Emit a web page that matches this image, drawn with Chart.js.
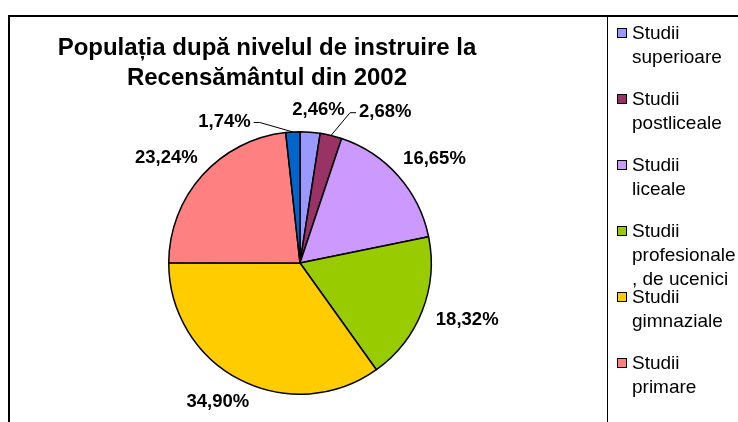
<!DOCTYPE html>
<html>
<head>
<meta charset="utf-8">
<script src="https://cdn.jsdelivr.net/npm/chart.js@4"></script>
<style>
  html, body { margin: 0; padding: 0; background: #fff; overflow: hidden; }
  #wrap { position: relative; width: 738px; height: 422px; overflow: hidden; font-family: "Liberation Sans", Arial, sans-serif; }
  #frame { position: absolute; left: 8px; top: 15px; width: 760px; height: 460px; border: 2px solid #000; box-sizing: border-box; }
  #title { position: absolute; left: 0; top: 32px; width: 534px; text-align: center; font-weight: bold; font-size: 24px; line-height: 30px; color: #000; }
  #legendBox { position: absolute; left: 607px; top: 16px; width: 200px; height: 460px; border: 1px solid #000; box-sizing: border-box; }
  .item { position: absolute; width: 200px; font-size: 19px; line-height: 24px; white-space: pre; color: #000; }
  canvas { position: absolute; left: 0; top: 0; }
</style>
</head>
<body>
<div id="wrap">
  <div id="frame"></div>
  <div id="legendBox"></div>
  <canvas id="pie" width="738" height="422"></canvas>
  <div id="title">Populația după nivelul de instruire la<br>Recensământul din 2002</div>
  <div id="legend"></div>
</div>
<script>
const categories = [
  "Studii\nsuperioare",
  "Studii\npostliceale",
  "Studii\nliceale",
  "Studii\nprofesionale\n, de ucenici",
  "Studii\ngimnaziale",
  "Studii\nprimare",
  "Fără școală\nabsolvită"
];
const shares = [2.46, 2.68, 16.65, 18.32, 34.90, 23.24, 1.74];
const colors = ["#9999FF", "#993366", "#CC99FF", "#99CC00", "#FFCC00", "#FF8080", "#0066CC"];

// manual shifts for labels Excel moved off the small slices
const labelShift = [[5, 3], [44, 1], [0, 0], [0, 0], [0, 0], [0, 0], [-66, 15]];

const pctLabels = {
  id: "pctLabels",
  afterDatasetsDraw(chart) {
    const ctx = chart.ctx;
    const meta = chart.getDatasetMeta(0);
    ctx.save();
    ctx.font = "bold 18.5px 'Liberation Sans', Arial, sans-serif";
    ctx.fillStyle = "#000";
    ctx.textAlign = "center";
    ctx.textBaseline = "middle";
    meta.data.forEach((arc, i) => {
      const p = arc.getProps(["x", "y", "startAngle", "endAngle", "outerRadius"], true);
      const mid = (p.startAngle + p.endAngle) / 2;
      const ux = Math.cos(mid), uy = Math.sin(mid);
      const txt = shares[i].toFixed(2).replace(".", ",") + "%";
      const w = ctx.measureText(txt).width, h = 17;
      const r = p.outerRadius + 17;
      const sh = labelShift[i];
      const cx = p.x + r * ux + w / 2 * ux + sh[0];
      const cy = p.y + r * uy + h / 2 * uy + sh[1];
      ctx.fillText(txt, cx, cy);
      if (Math.hypot(sh[0], sh[1]) > 20) {
        const ax = p.x + p.outerRadius * ux, ay = p.y + p.outerRadius * uy;
        const dir = cx < ax ? 1 : -1;
        const ex = cx + dir * (w / 2 + 3), ey = cy + 1;
        ctx.beginPath();
        ctx.lineWidth = 1;
        ctx.strokeStyle = "#000";
        ctx.moveTo(ex, ey);
        ctx.lineTo(ex + dir * 6, ey);
        ctx.lineTo(ax, ay);
        ctx.stroke();
      }
    });
    ctx.restore();
  }
};

const chart = new Chart(document.getElementById("pie"), {
  type: "pie",
  data: {
    labels: categories.map(c => c.replace(/\n/g, " ")),
    datasets: [{
      data: shares,
      backgroundColor: colors,
      borderColor: "#000",
      borderWidth: 1.5
    }]
  },
  options: {
    responsive: false,
    animation: false,
    layout: { padding: { left: 168, right: 306, top: 131, bottom: 27 } },
    plugins: {
      legend: { display: false },
      tooltip: { enabled: false }
    }
  },
  plugins: [pctLabels]
});

// legend on the right, built from the chart data (the last entry falls below the visible frame)
const legend = document.getElementById("legend");
categories.slice(0, 6).forEach((name, i) => {
  const top = 21 + i * 66;
  const sw = document.createElement("div");
  sw.style.cssText = "position:absolute;left:617px;top:" + (top + 7) + "px;width:8px;height:8px;border:1px solid #000;background:" + colors[i];
  legend.appendChild(sw);
  const t = document.createElement("div");
  t.className = "item";
  t.style.cssText = "left:632px;top:" + top + "px";
  t.textContent = name;
  legend.appendChild(t);
});
</script>
</body>
</html>
